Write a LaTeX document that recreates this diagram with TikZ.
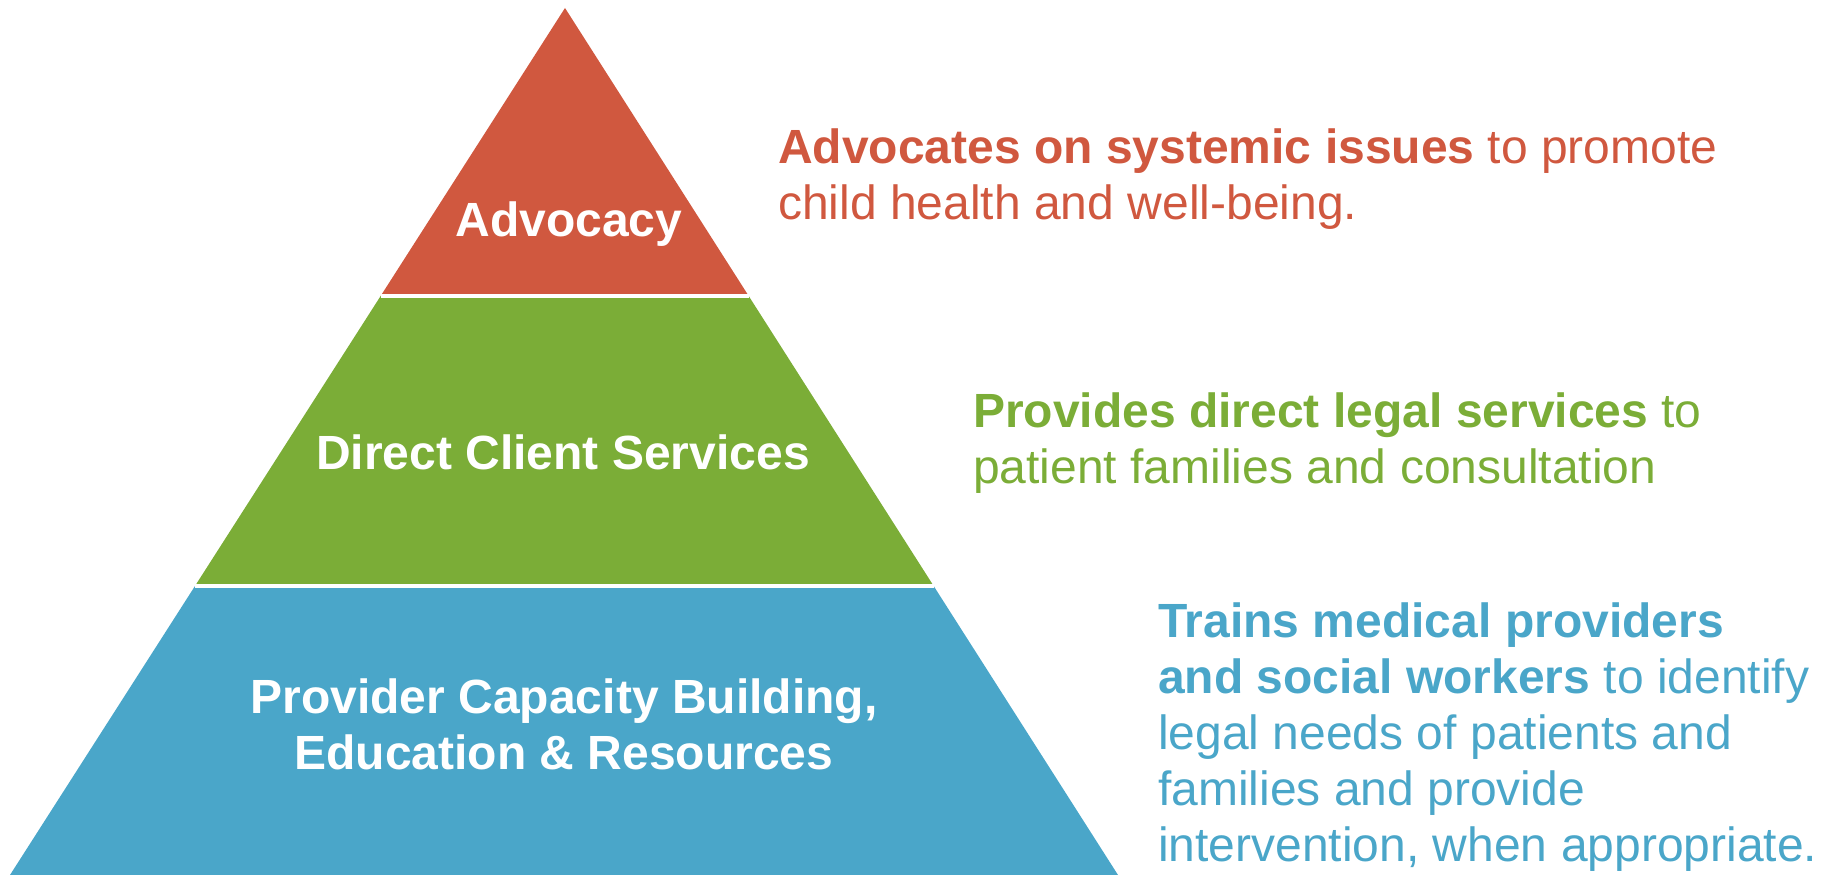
\documentclass[tikz,border=0pt]{standalone}
\usepackage{fontspec}
\setmainfont{Liberation Sans}
\usetikzlibrary{calc}

\definecolor{advred}{RGB}{208,88,63}
\definecolor{dcsgreen}{RGB}{123,173,55}
\definecolor{pcbblue}{RGB}{74,166,201}

\begin{document}
\begin{tikzpicture}[
    x=1pt,y=1pt,
    lvl/.style={font=\fontsize{48}{56}\selectfont\bfseries, text=white,
                align=center, inner sep=0pt},
    txt/.style={font=\fontsize{48}{56}\selectfont, align=left,
                anchor=base west, inner sep=0pt},
    gap/.style={draw=white, line width=3.5pt}
]
\useasboundingbox (0,0) rectangle (1834,875);

% Pyramid outline and band edges
\coordinate (top) at (565,867);
\coordinate (bl) at (10,0);
\coordinate (br) at (1118,0);
\coordinate (l1) at ($(top)!0.3322!(bl)$);
\coordinate (r1) at ($(top)!0.3322!(br)$);
\coordinate (l2) at ($(top)!0.6667!(bl)$);
\coordinate (r2) at ($(top)!0.6667!(br)$);

\fill[advred] (top) -- (l1) -- (r1) -- cycle;
\fill[dcsgreen] (l1) -- (l2) -- (r2) -- (r1) -- cycle;
\fill[pcbblue] (l2) -- (bl) -- (br) -- (r2) -- cycle;
\draw[gap] (l1) -- (r1);
\draw[gap] (l2) -- (r2);

% Band labels
\node[lvl, anchor=base] (adv) at (569,638) {Advocacy};
\node[lvl, anchor=base] (dcs) at (563,405) {Direct Client Services};
\node[lvl] (pcb) at (564,151) {Provider Capacity Building,\\Education \& Resources};

% Descriptions (base = baseline of the last line)
\node[txt, text=advred] (advtxt) at (778,655)
    {\textbf{Advocates on systemic issues} to promote\\child health and well-being.};
\node[txt, text=dcsgreen] (dcstxt) at (973,391)
    {\textbf{Provides direct legal services} to\\patient families and consultation};
\node[txt, text=pcbblue] (pcbtxt) at (1158,13)
    {\textbf{Trains medical providers}\\\textbf{and social workers} to identify\\legal needs of patients and\\families and provide\\intervention, when appropriate.};
\end{tikzpicture}
\end{document}
